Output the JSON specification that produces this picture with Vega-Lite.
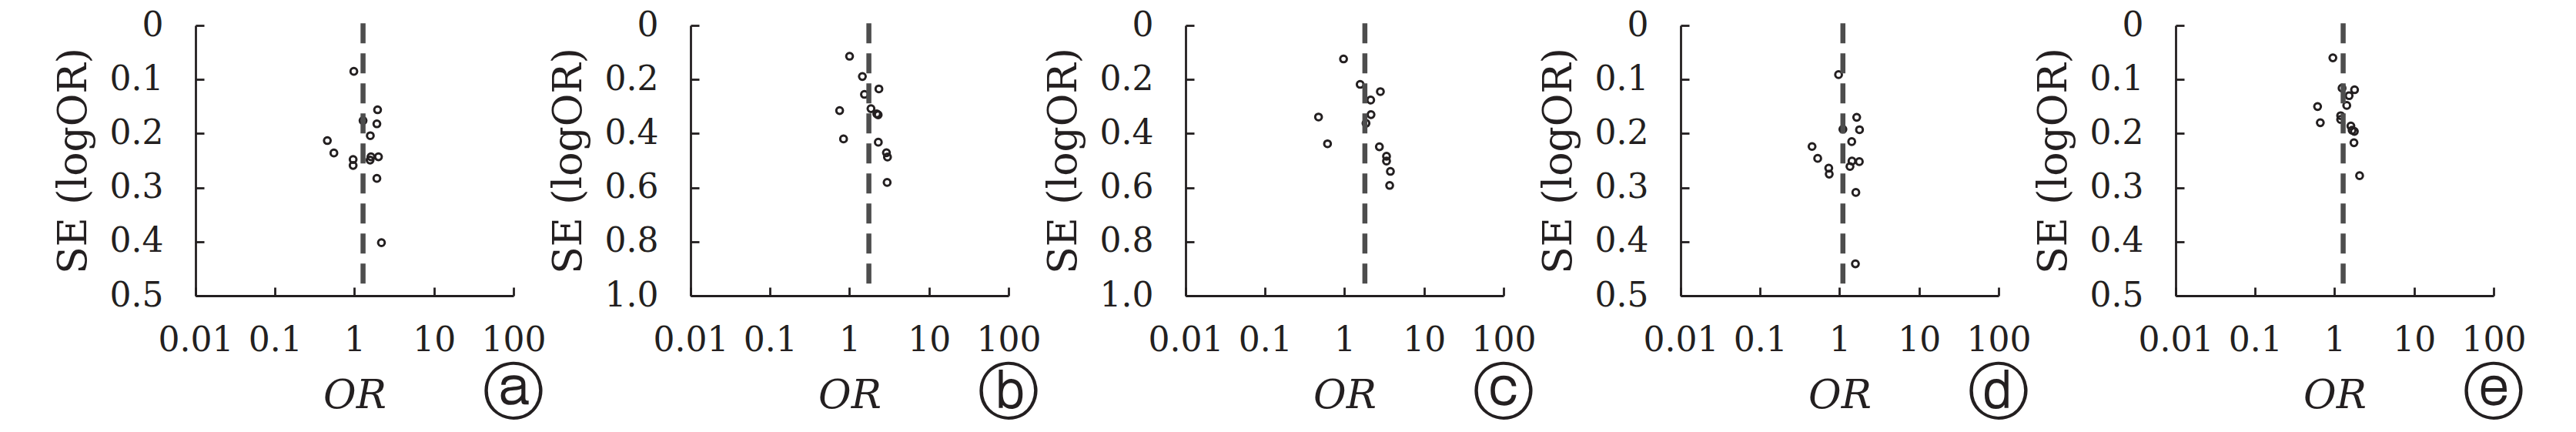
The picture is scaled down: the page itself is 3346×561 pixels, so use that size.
{
  "$schema": "https://vega.github.io/schema/vega-lite/v6.json",
  "padding": {"left": 69, "top": 11, "right": 5, "bottom": 5},
  "background": "white",
  "datasets": {
    "pts": [
      {"p": "a", "or": 0.98, "se": 0.085}, {"p": "a", "or": 1.95, "se": 0.156}, {"p": "a", "or": 1.28, "se": 0.176},
      {"p": "a", "or": 1.91, "se": 0.182}, {"p": "a", "or": 1.58, "se": 0.204}, {"p": "a", "or": 0.455, "se": 0.213},
      {"p": "a", "or": 0.55, "se": 0.236}, {"p": "a", "or": 0.96, "se": 0.248}, {"p": "a", "or": 0.96, "se": 0.259},
      {"p": "a", "or": 1.61, "se": 0.243}, {"p": "a", "or": 1.57, "se": 0.249}, {"p": "a", "or": 2.0, "se": 0.243},
      {"p": "a", "or": 1.91, "se": 0.283}, {"p": "a", "or": 2.18, "se": 0.402},
      {"p": "b", "or": 1.0, "se": 0.114}, {"p": "b", "or": 1.45, "se": 0.189}, {"p": "b", "or": 2.34, "se": 0.235},
      {"p": "b", "or": 1.54, "se": 0.255}, {"p": "b", "or": 0.75, "se": 0.315}, {"p": "b", "or": 1.86, "se": 0.308},
      {"p": "b", "or": 2.2, "se": 0.327}, {"p": "b", "or": 2.29, "se": 0.331}, {"p": "b", "or": 0.84, "se": 0.42},
      {"p": "b", "or": 2.3, "se": 0.432}, {"p": "b", "or": 2.91, "se": 0.471}, {"p": "b", "or": 3.0, "se": 0.487},
      {"p": "b", "or": 2.97, "se": 0.581},
      {"p": "c", "or": 0.97, "se": 0.124}, {"p": "c", "or": 1.57, "se": 0.218}, {"p": "c", "or": 2.82, "se": 0.245},
      {"p": "c", "or": 2.13, "se": 0.276}, {"p": "c", "or": 2.15, "se": 0.33}, {"p": "c", "or": 0.47, "se": 0.339},
      {"p": "c", "or": 1.86, "se": 0.362}, {"p": "c", "or": 0.61, "se": 0.438}, {"p": "c", "or": 2.74, "se": 0.449},
      {"p": "c", "or": 3.37, "se": 0.484}, {"p": "c", "or": 3.37, "se": 0.502}, {"p": "c", "or": 3.77, "se": 0.54},
      {"p": "c", "or": 3.69, "se": 0.592},
      {"p": "d", "or": 0.97, "se": 0.091}, {"p": "d", "or": 1.64, "se": 0.17}, {"p": "d", "or": 1.78, "se": 0.193},
      {"p": "d", "or": 1.1, "se": 0.192}, {"p": "d", "or": 1.42, "se": 0.215}, {"p": "d", "or": 0.45, "se": 0.224},
      {"p": "d", "or": 0.53, "se": 0.246}, {"p": "d", "or": 1.43, "se": 0.251}, {"p": "d", "or": 1.77, "se": 0.252},
      {"p": "d", "or": 1.35, "se": 0.261}, {"p": "d", "or": 0.73, "se": 0.264}, {"p": "d", "or": 0.74, "se": 0.275},
      {"p": "d", "or": 1.6, "se": 0.309}, {"p": "d", "or": 1.58, "se": 0.441},
      {"p": "e", "or": 0.95, "se": 0.06}, {"p": "e", "or": 1.24, "se": 0.116}, {"p": "e", "or": 1.78, "se": 0.119},
      {"p": "e", "or": 1.52, "se": 0.13}, {"p": "e", "or": 0.61, "se": 0.15}, {"p": "e", "or": 1.42, "se": 0.148},
      {"p": "e", "or": 1.19, "se": 0.167}, {"p": "e", "or": 1.19, "se": 0.174}, {"p": "e", "or": 0.66, "se": 0.18},
      {"p": "e", "or": 1.6, "se": 0.186}, {"p": "e", "or": 1.66, "se": 0.194}, {"p": "e", "or": 1.77, "se": 0.196},
      {"p": "e", "or": 1.75, "se": 0.217}, {"p": "e", "or": 2.06, "se": 0.278}
    ],
    "refs": [
      {"p": "a", "or": 1.28, "y0": -0.004, "y1": 0.48},
      {"p": "b", "or": 1.75, "y0": -0.008, "y1": 0.96},
      {"p": "c", "or": 1.8, "y0": -0.008, "y1": 0.96},
      {"p": "d", "or": 1.1, "y0": -0.004, "y1": 0.48},
      {"p": "e", "or": 1.28, "y0": -0.004, "y1": 0.48}
    ]
  },
  "spacing": 230,
  "bounds": "flush",
  "hconcat": [
    {
      "width": 413, "height": 351,
      "title": {"text": "ⓐ", "orient": "bottom", "anchor": "end", "frame": "group", "offset": -66, "dx": 40},
      "layer": [
        {"data": {"name": "pts"}, "transform": [{"filter": "datum.p == 'a'"}],
         "mark": {"type": "point", "shape": "circle", "filled": false, "size": 75, "strokeWidth": 3, "color": "#231f20", "opacity": 1},
         "encoding": {
           "x": {"field": "or", "type": "quantitative", "scale": {"type": "log", "domain": [0.01, 100]}, "axis": {"values": [0.01, 0.1, 1, 10, 100], "format": "~g", "title": "OR", "titleFontStyle": "italic"}},
           "y": {"field": "se", "type": "quantitative", "scale": {"domain": [0, 0.5], "reverse": true}, "axis": {"values": [0, 0.1, 0.2, 0.3, 0.4, 0.5], "labelExpr": "datum.value == 0 ? '0' : format(datum.value, '.1f')", "title": "SE (logOR)"}}
         }},
        {"data": {"name": "refs"}, "transform": [{"filter": "datum.p == 'a'"}],
         "mark": {"type": "rule", "strokeDash": [26, 13], "strokeWidth": 6.5, "color": "#4d4d4d"},
         "encoding": {"x": {"field": "or", "type": "quantitative"}, "y": {"field": "y0", "type": "quantitative"}, "y2": {"field": "y1"}}}
      ]
    },
    {
      "width": 413, "height": 351,
      "title": {"text": "ⓑ", "orient": "bottom", "anchor": "end", "frame": "group", "offset": -66, "dx": 40},
      "layer": [
        {"data": {"name": "pts"}, "transform": [{"filter": "datum.p == 'b'"}],
         "mark": {"type": "point", "shape": "circle", "filled": false, "size": 75, "strokeWidth": 3, "color": "#231f20", "opacity": 1},
         "encoding": {
           "x": {"field": "or", "type": "quantitative", "scale": {"type": "log", "domain": [0.01, 100]}, "axis": {"values": [0.01, 0.1, 1, 10, 100], "format": "~g", "title": "OR", "titleFontStyle": "italic"}},
           "y": {"field": "se", "type": "quantitative", "scale": {"domain": [0, 1], "reverse": true}, "axis": {"values": [0, 0.2, 0.4, 0.6, 0.8, 1], "labelExpr": "datum.value == 0 ? '0' : format(datum.value, '.1f')", "title": "SE (logOR)"}}
         }},
        {"data": {"name": "refs"}, "transform": [{"filter": "datum.p == 'b'"}],
         "mark": {"type": "rule", "strokeDash": [26, 13], "strokeWidth": 6.5, "color": "#4d4d4d"},
         "encoding": {"x": {"field": "or", "type": "quantitative"}, "y": {"field": "y0", "type": "quantitative"}, "y2": {"field": "y1"}}}
      ]
    },
    {
      "width": 413, "height": 351,
      "title": {"text": "ⓒ", "orient": "bottom", "anchor": "end", "frame": "group", "offset": -66, "dx": 40},
      "layer": [
        {"data": {"name": "pts"}, "transform": [{"filter": "datum.p == 'c'"}],
         "mark": {"type": "point", "shape": "circle", "filled": false, "size": 75, "strokeWidth": 3, "color": "#231f20", "opacity": 1},
         "encoding": {
           "x": {"field": "or", "type": "quantitative", "scale": {"type": "log", "domain": [0.01, 100]}, "axis": {"values": [0.01, 0.1, 1, 10, 100], "format": "~g", "title": "OR", "titleFontStyle": "italic"}},
           "y": {"field": "se", "type": "quantitative", "scale": {"domain": [0, 1], "reverse": true}, "axis": {"values": [0, 0.2, 0.4, 0.6, 0.8, 1], "labelExpr": "datum.value == 0 ? '0' : format(datum.value, '.1f')", "title": "SE (logOR)"}}
         }},
        {"data": {"name": "refs"}, "transform": [{"filter": "datum.p == 'c'"}],
         "mark": {"type": "rule", "strokeDash": [26, 13], "strokeWidth": 6.5, "color": "#4d4d4d"},
         "encoding": {"x": {"field": "or", "type": "quantitative"}, "y": {"field": "y0", "type": "quantitative"}, "y2": {"field": "y1"}}}
      ]
    },
    {
      "width": 413, "height": 351,
      "title": {"text": "ⓓ", "orient": "bottom", "anchor": "end", "frame": "group", "offset": -66, "dx": 40},
      "layer": [
        {"data": {"name": "pts"}, "transform": [{"filter": "datum.p == 'd'"}],
         "mark": {"type": "point", "shape": "circle", "filled": false, "size": 75, "strokeWidth": 3, "color": "#231f20", "opacity": 1},
         "encoding": {
           "x": {"field": "or", "type": "quantitative", "scale": {"type": "log", "domain": [0.01, 100]}, "axis": {"values": [0.01, 0.1, 1, 10, 100], "format": "~g", "title": "OR", "titleFontStyle": "italic"}},
           "y": {"field": "se", "type": "quantitative", "scale": {"domain": [0, 0.5], "reverse": true}, "axis": {"values": [0, 0.1, 0.2, 0.3, 0.4, 0.5], "labelExpr": "datum.value == 0 ? '0' : format(datum.value, '.1f')", "title": "SE (logOR)"}}
         }},
        {"data": {"name": "refs"}, "transform": [{"filter": "datum.p == 'd'"}],
         "mark": {"type": "rule", "strokeDash": [26, 13], "strokeWidth": 6.5, "color": "#4d4d4d"},
         "encoding": {"x": {"field": "or", "type": "quantitative"}, "y": {"field": "y0", "type": "quantitative"}, "y2": {"field": "y1"}}}
      ]
    },
    {
      "width": 413, "height": 351,
      "title": {"text": "ⓔ", "orient": "bottom", "anchor": "end", "frame": "group", "offset": -66, "dx": 40},
      "layer": [
        {"data": {"name": "pts"}, "transform": [{"filter": "datum.p == 'e'"}],
         "mark": {"type": "point", "shape": "circle", "filled": false, "size": 75, "strokeWidth": 3, "color": "#231f20", "opacity": 1},
         "encoding": {
           "x": {"field": "or", "type": "quantitative", "scale": {"type": "log", "domain": [0.01, 100]}, "axis": {"values": [0.01, 0.1, 1, 10, 100], "format": "~g", "title": "OR", "titleFontStyle": "italic"}},
           "y": {"field": "se", "type": "quantitative", "scale": {"domain": [0, 0.5], "reverse": true}, "axis": {"values": [0, 0.1, 0.2, 0.3, 0.4, 0.5], "labelExpr": "datum.value == 0 ? '0' : format(datum.value, '.1f')", "title": "SE (logOR)"}}
         }},
        {"data": {"name": "refs"}, "transform": [{"filter": "datum.p == 'e'"}],
         "mark": {"type": "rule", "strokeDash": [26, 13], "strokeWidth": 6.5, "color": "#4d4d4d"},
         "encoding": {"x": {"field": "or", "type": "quantitative"}, "y": {"field": "y0", "type": "quantitative"}, "y2": {"field": "y1"}}}
      ]
    }
  ],
  "config": {
    "font": "DejaVu Serif",
    "view": {"stroke": null},
    "axis": {
      "domainColor": "#231f20", "domainWidth": 2.8, "tickColor": "#231f20", "tickWidth": 2.8, "tickSize": -11,
      "grid": false, "labelFont": "DejaVu Serif", "labelFontSize": 44, "labelColor": "#231f20",
      "titleFont": "DejaVu Serif", "titleFontSize": 52, "titleColor": "#231f20", "titleFontWeight": "normal"
    },
    "axisX": {"labelPadding": 47, "titlePadding": 24, "labelFlush": false, "labelOverlap": false},
    "axisY": {"labelPadding": 53, "titlePadding": 20, "labelOverlap": false},
    "title": {"font": "DejaVu Sans", "fontSize": 80, "color": "#231f20", "fontWeight": "normal"}
  }
}
